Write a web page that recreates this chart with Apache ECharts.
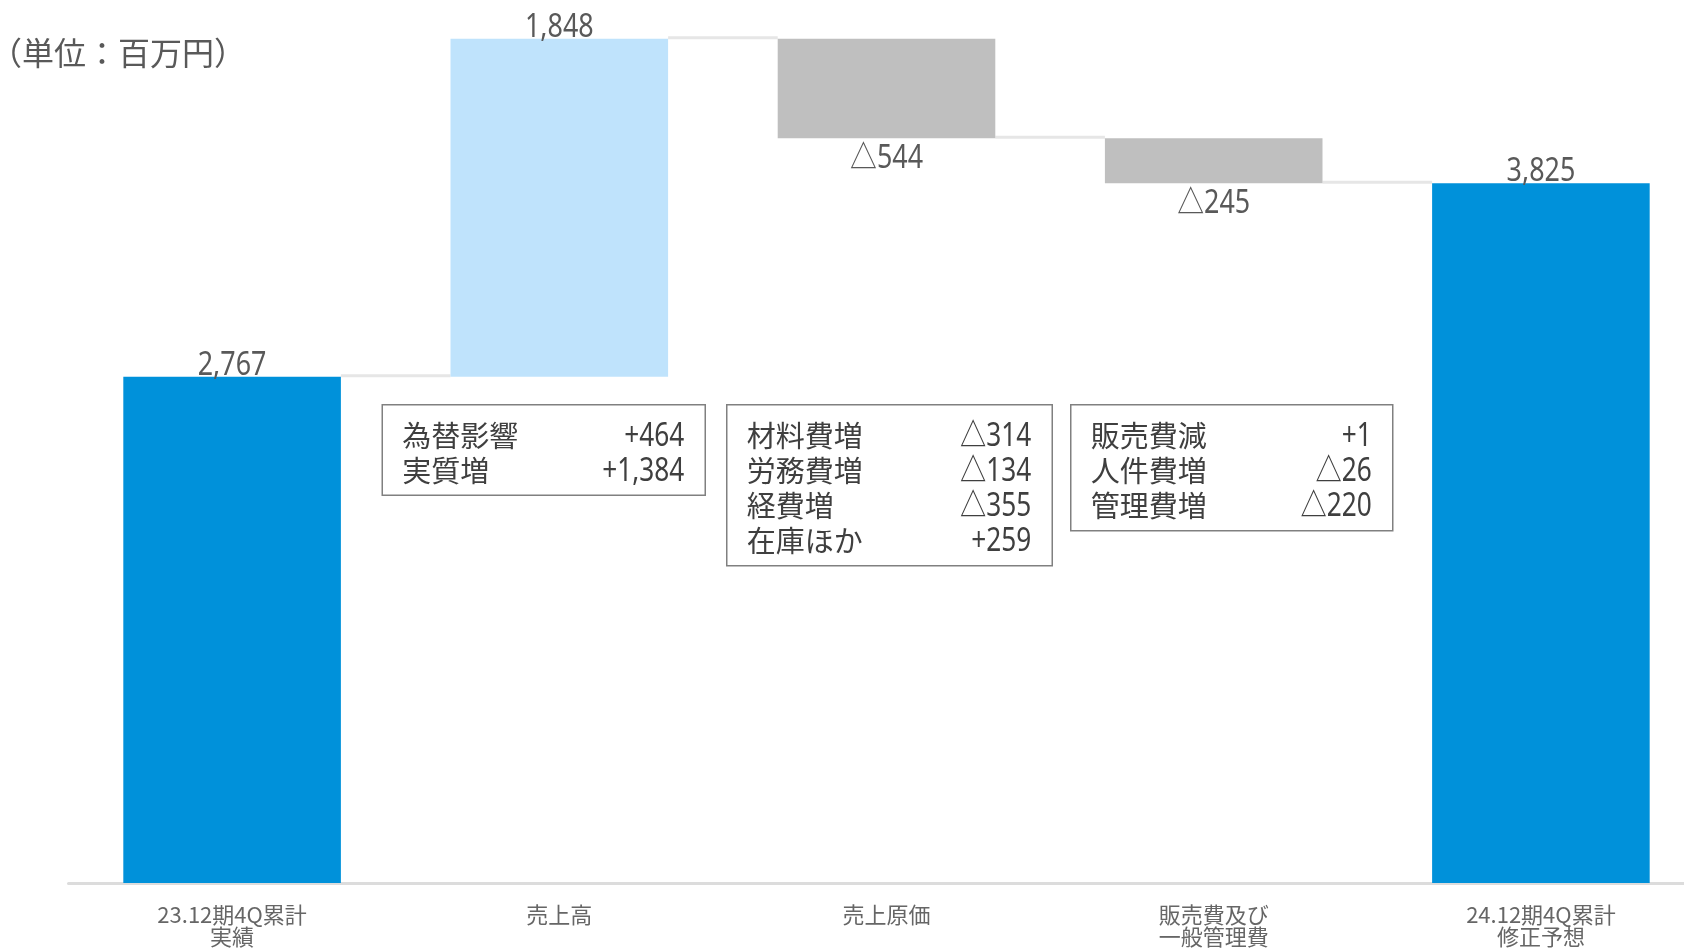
<!DOCTYPE html>
<html>
<head>
<meta charset="utf-8">
<script src="https://cdn.jsdelivr.net/npm/echarts@6/dist/echarts.min.js"></script>
<style>
  html, body { margin: 0; padding: 0; background: #ffffff; overflow: hidden; }
  #chart { width: 1684px; height: 949px; }
</style>
</head>
<body>
<div id="chart"></div>
<script>
// Operating-profit bridge (百万円)
const categories = ['23.12期4Q累計\n実績', '売上高', '売上原価', '販売費及び\n一般管理費', '24.12期4Q累計\n修正予想'];
const values = [2767, 1848, -544, -245, 3825];
const isTotal = [true, false, false, false, true];

// breakdown notes under each change bar
const salesDetail = [['為替影響', '+464'], ['実質増', '+1,384']];
const costDetail = [['材料費増', '△314'], ['労務費増', '△134'], ['経費増', '△355'], ['在庫ほか', '+259']];
const sgaDetail = [['販売費減', '+1'], ['人件費増', '△26'], ['管理費増', '△220']];

const unitText = '（単位：百万円）';

const COLOR_TOTAL = '#0091DA';
const COLOR_UP = '#BFE3FC';
const COLOR_DOWN = '#BFBFBF';
const BAR_RATIO = 0.665;
const NUM_FONT = '"Noto Sans", "Noto Sans CJK JP", sans-serif';
const JP_FONT = '"Noto Sans CJK JP", sans-serif';
const NARROW = 0.84; // horizontal squeeze for numerals

const fmt = v => v.toLocaleString('en-US');

// invisible base + visible segment for the waterfall
const baseData = [];
const bodyData = [];
const levels = [];
let level = 0;
values.forEach((v, i) => {
  if (isTotal[i]) {
    baseData.push(0);
    bodyData.push(v);
    level = v;
  } else if (v >= 0) {
    baseData.push(level);
    bodyData.push(v);
    level += v;
  } else {
    level += v;
    baseData.push(level);
    bodyData.push(-v);
  }
  levels.push(level);
});

const bodyItems = values.map((v, i) => ({
  value: bodyData[i],
  itemStyle: { color: isTotal[i] ? COLOR_TOTAL : (v >= 0 ? COLOR_UP : COLOR_DOWN) }
}));

// value labels: [category index, anchor value, 1 = above / 0 = below, text]
const labelData = values.map((v, i) => {
  const neg = !isTotal[i] && v < 0;
  const top = baseData[i] + bodyData[i];
  return neg ? [i, baseData[i], 0, '△' + fmt(-v)] : [i, top, 1, fmt(v)];
});

// connector lines between adjacent bars
const connectorData = levels.slice(0, levels.length - 1).map((lv, i) => [i, lv]);

function makeBox(rows, left, top, width, height) {
  const children = [{
    type: 'rect',
    shape: { x: 0, y: 0, width, height },
    style: { fill: '#ffffff', stroke: '#808080', lineWidth: 1.5 }
  }];
  rows.forEach((r, k) => {
    const cy = 31 + k * 35;
    children.push({
      type: 'text',
      x: 20, y: cy,
      style: { text: r[0], x: 0, y: 0, font: '29px ' + JP_FONT, fill: '#3f3f3f', align: 'left', verticalAlign: 'middle' }
    });
    children.push({
      type: 'text',
      x: width - 21, y: cy + 1,
      scaleX: 0.82,
      style: { text: r[1], x: 0, y: 0, font: '32px ' + NUM_FONT, fill: '#3f3f3f', align: 'right', verticalAlign: 'middle' }
    });
  });
  return { type: 'group', left, top, children };
}

const chart = echarts.init(document.getElementById('chart'), null, { renderer: 'canvas' });

chart.setOption({
  backgroundColor: '#ffffff',
  animation: false,
  grid: { left: 68.5, top: 5, width: 1636, bottom: 66, containLabel: false, outerBoundsMode: 'none' },
  xAxis: {
    type: 'category',
    data: categories,
    axisTick: { show: false },
    axisLine: { show: true, lineStyle: { color: '#DCDCDC', width: 3 } },
    axisLabel: {
      interval: 0,
      margin: 21,
      color: '#666666',
      fontFamily: JP_FONT,
      fontSize: 22,
      lineHeight: 22
    },
    z: 1
  },
  yAxis: {
    type: 'value',
    min: 0,
    max: 4800,
    show: false,
    splitLine: { show: false }
  },
  graphic: [
    {
      type: 'text',
      x: -10,
      y: 53,
      style: { text: unitText, x: 0, y: 0, font: '32px ' + JP_FONT, fill: '#595959', align: 'left', verticalAlign: 'middle' }
    },
    makeBox(salesDetail, 381.5, 404, 323, 90.5),
    makeBox(costDetail, 726, 404, 325.5, 161),
    makeBox(sgaDetail, 1070, 404, 322, 126)
  ],
  series: [
    {
      type: 'bar',
      stack: 'wf',
      barWidth: (BAR_RATIO * 100) + '%',
      itemStyle: { color: 'transparent' },
      emphasis: { disabled: true },
      data: baseData,
      z: 2
    },
    {
      type: 'bar',
      stack: 'wf',
      barWidth: (BAR_RATIO * 100) + '%',
      data: bodyItems,
      z: 3
    },
    {
      type: 'custom',
      encode: { x: 0, y: 1 },
      data: connectorData,
      z: 2,
      renderItem(params, api) {
        const i = api.value(0);
        const lv = api.value(1);
        const p0 = api.coord([i, lv]);
        const p1 = api.coord([i + 1, lv]);
        const half = api.size([1, 0])[0] * BAR_RATIO / 2;
        return {
          type: 'line',
          shape: { x1: p0[0] + half, y1: p0[1] - 1, x2: p1[0] - half, y2: p1[1] - 1 },
          style: { stroke: '#E6E6E6', lineWidth: 3 }
        };
      }
    },
    {
      type: 'custom',
      encode: { x: 0, y: 1 },
      data: labelData,
      z: 4,
      renderItem(params, api) {
        const i = api.value(0);
        const anchor = api.value(1);
        const above = api.value(2) === 1;
        const p = api.coord([i, anchor]);
        const text = labelData[params.dataIndex][3];
        return {
          type: 'text',
          x: p[0],
          y: above ? p[1] + 5 : p[1] + 5,
          scaleX: NARROW,
          style: {
            text,
            x: 0, y: 0,
            font: '32px ' + NUM_FONT,
            fill: '#595959',
            align: 'center',
            verticalAlign: above ? 'bottom' : 'top'
          }
        };
      }
    }
  ]
});
</script>
</body>
</html>
